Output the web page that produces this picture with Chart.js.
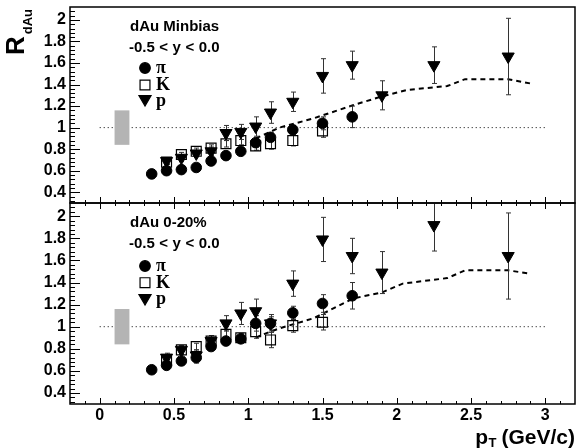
<!DOCTYPE html>
<html>
<head>
<meta charset="utf-8">
<script src="https://cdn.jsdelivr.net/npm/chart.js@4.4.0/dist/chart.umd.min.js"></script>
<style>
  body { margin: 0; background: #fff; }
  #wrap { position: relative; width: 576px; height: 448px; }
  canvas { position: absolute; left: 0; }
  #topChart { top: 0; }
  #bottomChart { top: 198px; }
</style>
</head>
<body>
<div id="wrap">
  <canvas id="topChart" width="576" height="205"></canvas>
  <canvas id="bottomChart" width="576" height="250"></canvas>
</div>
<script>
// pT bin centres (GeV/c)
const piPt = [0.35, 0.45, 0.55, 0.65, 0.75, 0.85, 0.95, 1.05, 1.15, 1.3, 1.5, 1.7];
const kPt = [0.45, 0.55, 0.65, 0.75, 0.85, 0.95, 1.05, 1.15, 1.3, 1.5];
const pPt = [0.45, 0.55, 0.65, 0.75, 0.85, 0.95, 1.05, 1.15, 1.3, 1.5, 1.7, 1.9, 2.25, 2.75];

// dAu minbias
const piMinbias = [0.57, 0.60, 0.61, 0.63, 0.69, 0.74, 0.78, 0.86, 0.91, 0.98, 1.04, 1.10];
const piMinbiasErr = [0.02, 0.02, 0.02, 0.03, 0.03, 0.03, 0.03, 0.04, 0.04, 0.04, 0.06, 0.10];
const kMinbias = [0.68, 0.75, 0.78, 0.81, 0.85, 0.88, 0.83, 0.85, 0.88, 0.97];
const kMinbiasErr = [0.02, 0.02, 0.03, 0.03, 0.03, 0.04, 0.04, 0.05, 0.05, 0.06];
const pMinbias = [0.69, 0.72, 0.76, 0.78, 0.95, 0.96, 1.01, 1.14, 1.24, 1.48, 1.58, 1.30, 1.58, 1.66];
const pMinbiasErr = [0.03, 0.03, 0.03, 0.04, 0.07, 0.07, 0.09, 0.10, 0.09, 0.16, 0.13, 0.135, 0.17, 0.355];

// dAu 0-20%
const piCentral = [0.61, 0.65, 0.69, 0.72, 0.82, 0.87, 0.89, 1.03, 1.03, 1.125, 1.21, 1.28];
const piCentralErr = [0.02, 0.03, 0.03, 0.05, 0.03, 0.03, 0.03, 0.07, 0.06, 0.06, 0.08, 0.12];
const kCentral = [0.70, 0.79, 0.82, 0.87, 0.93, 0.90, 0.955, 0.88, 1.01, 1.04];
const kCentralErr = [0.02, 0.03, 0.03, 0.03, 0.04, 0.04, 0.06, 0.07, 0.06, 0.07];
const pCentral = [0.72, 0.79, 0.74, 0.87, 1.03, 1.12, 1.14, 1.03, 1.39, 1.79, 1.64, 1.49, 1.92, 1.64];
const pCentralErr = [0.04, 0.04, 0.05, 0.05, 0.07, 0.10, 0.11, 0.08, 0.115, 0.20, 0.16, 0.19, 0.235, 0.39];

// dashed curves
const curveMinbiasPt = [1.05, 1.1, 1.21, 1.44, 1.71, 1.90, 2.07, 2.34, 2.46, 2.75, 2.90];
const curveMinbias = [0.90, 0.93, 1.0, 1.086, 1.21, 1.29, 1.35, 1.386, 1.45, 1.45, 1.41];
const curveCentralPt = [1.05, 1.1, 1.21, 1.44, 1.71, 1.90, 2.04, 2.34, 2.46, 2.75, 2.90];
const curveCentral = [0.90, 0.93, 0.985, 1.076, 1.257, 1.31, 1.39, 1.44, 1.51, 1.51, 1.48];

// reference line and normalisation box
const refLineX = [0, 3];
const refLineY = [1, 1];
const sysBoxX = [0.1, 0.2];
const sysBoxY = [0.84, 1.16];

const xTicks = [0, 0.5, 1, 1.5, 2, 2.5, 3];
const yTicks = [0.4, 0.6, 0.8, 1, 1.2, 1.4, 1.6, 1.8, 2];

const sans = '"Liberation Sans", Arial, Helvetica, sans-serif';
const serif = '"Liberation Serif", "Times New Roman", serif';

function toPoints(xs, ys) {
  return xs.map((x, i) => ({ x: x, y: ys[i] }));
}

// box + error bars, drawn once the curve is down and before the markers
const errorBarPlugin = {
  id: 'errorBars',
  afterDatasetDraw(chart, args, opts) {
    if (chart.data.datasets[args.index].label !== 'curve') return;
    const { ctx, chartArea, scales } = chart;
    ctx.save();
    ctx.beginPath();
    ctx.rect(chartArea.left, chartArea.top, chartArea.width, chartArea.height);
    ctx.clip();

    const bx0 = scales.x.getPixelForValue(sysBoxX[0]);
    const bx1 = scales.x.getPixelForValue(sysBoxX[1]);
    const by0 = scales.y.getPixelForValue(sysBoxY[1]);
    const by1 = scales.y.getPixelForValue(sysBoxY[0]);
    ctx.fillStyle = '#b4b4b4';
    ctx.fillRect(bx0, by0, bx1 - bx0, by1 - by0);

    ctx.strokeStyle = '#333';
    ctx.lineWidth = 1;
    opts.series.forEach(s => {
      s.x.forEach((x, i) => {
        const px = Math.round(scales.x.getPixelForValue(x)) + 0.5;
        const lo = scales.y.getPixelForValue(s.y[i] - s.err[i]);
        const hi = scales.y.getPixelForValue(s.y[i] + s.err[i]);
        ctx.beginPath();
        ctx.moveTo(px, lo);
        ctx.lineTo(px, hi);
        ctx.moveTo(px - 2.5, lo);
        ctx.lineTo(px + 2.5, lo);
        ctx.moveTo(px - 2.5, hi);
        ctx.lineTo(px + 2.5, hi);
        ctx.stroke();
      });
    });
    ctx.restore();
  }
};

function drawLtText(ctx, x, y) {
  // TLatex style spacing round the "<" signs
  const parts = ['-0.5', '<', 'y', '<', '0.0'];
  parts.forEach(p => {
    ctx.fillText(p, x, y);
    x += ctx.measureText(p).width + 4.5;
  });
}

// frame, inward ticks, panel text and legend
const framePlugin = {
  id: 'frame',
  afterDraw(chart, args, opts) {
    const { ctx, chartArea, scales } = chart;
    const { left, right, top, bottom } = chartArea;
    ctx.save();
    ctx.strokeStyle = '#000';
    ctx.lineWidth = 1.5;
    ctx.strokeRect(left, top, right - left, bottom - top);

    ctx.lineWidth = 1;
    ctx.beginPath();
    for (let k = 8; k <= 52; k++) {
      const py = Math.round(scales.y.getPixelForValue(k * 0.04)) + 0.5;
      const len = k % 5 === 0 ? 10 : 5;
      ctx.moveTo(left, py);
      ctx.lineTo(left + len, py);
    }
    for (let k = -1; k <= 31; k++) {
      const px = Math.round(scales.x.getPixelForValue(k * 0.1)) + 0.5;
      const len = k % 5 === 0 ? 6 : 3;
      ctx.moveTo(px, bottom);
      ctx.lineTo(px, bottom - len);
      if (opts.topTicks) {
        ctx.moveTo(px, top);
        ctx.lineTo(px, top + len);
      }
    }
    ctx.stroke();

    ctx.fillStyle = '#000';
    ctx.textAlign = 'left';
    ctx.textBaseline = 'alphabetic';
    ctx.font = 'bold 15px ' + sans;
    ctx.fillText(opts.title, 130, opts.textY[0]);
    drawLtText(ctx, 129, opts.textY[1]);

    const marks = [
      { pointStyle: 'circle', radius: 5.3, rotation: 0, fill: true, label: 'π' },
      { pointStyle: 'rect', radius: 7, rotation: 0, fill: false, label: 'K' },
      { pointStyle: 'triangle', radius: 7, rotation: 180, fill: true, label: 'p' }
    ];
    marks.forEach((m, i) => {
      ctx.fillStyle = m.fill ? '#000' : 'rgba(0,0,0,0)';
      ctx.strokeStyle = '#000';
      ctx.lineWidth = 1.2;
      Chart.helpers.drawPoint(ctx, { pointStyle: m.pointStyle, radius: m.radius, rotation: m.rotation, borderWidth: 1.2 }, 145, opts.markY[i]);
      ctx.fillStyle = '#000';
      ctx.font = 'bold 18px ' + serif;
      ctx.fillText(m.label, 156, opts.labelY[i]);
    });

    if (opts.yTitle) {
      ctx.save();
      ctx.translate(24, 55);
      ctx.rotate(-Math.PI / 2);
      ctx.font = 'bold 26px ' + sans;
      ctx.fillText('R', 0, 0);
      const w = ctx.measureText('R').width;
      ctx.font = 'bold 13px ' + sans;
      ctx.fillText('dAu', w + 2, 8);
      ctx.restore();
    }
    if (opts.xTitle) {
      const y = 444 - 198;
      ctx.textAlign = 'right';
      ctx.font = 'bold 21px ' + sans;
      ctx.fillText('(GeV/c)', 575, y);
      let x = 575 - ctx.measureText('(GeV/c)').width - 5;
      ctx.font = 'bold 13px ' + sans;
      ctx.fillText('T', x, y + 3);
      x -= ctx.measureText('T').width + 0.5;
      ctx.font = 'bold 21px ' + sans;
      ctx.fillText('p', x, y);
    }
    ctx.restore();
  }
};

function makePanel(canvasId, panel) {
  const ctx = document.getElementById(canvasId).getContext('2d');
  const tickFont = { family: sans, size: 16, weight: 'bold' };

  new Chart(ctx, {
    type: 'scatter',
    data: {
      datasets: [
        {
          label: 'pi',
          data: toPoints(piPt, panel.pi),
          pointStyle: 'circle',
          pointRadius: 5.3,
          backgroundColor: '#000',
          borderColor: '#000',
          borderWidth: 1
        },
        {
          label: 'p',
          data: toPoints(pPt, panel.p),
          pointStyle: 'triangle',
          pointRotation: 180,
          pointRadius: 7,
          backgroundColor: '#000',
          borderColor: '#000',
          borderWidth: 1
        },
        {
          label: 'K',
          data: toPoints(kPt, panel.k),
          pointStyle: 'rect',
          pointRadius: 7,
          backgroundColor: 'rgba(0,0,0,0)',
          borderColor: '#000',
          borderWidth: 1.2
        },
        {
          label: 'curve',
          type: 'line',
          data: toPoints(panel.curvePt, panel.curve),
          borderColor: '#000',
          borderWidth: 2,
          borderDash: [5, 4],
          pointRadius: 0,
          fill: false,
          tension: 0
        },
        {
          label: 'ref',
          type: 'line',
          data: toPoints(refLineX, refLineY),
          borderColor: '#000',
          borderWidth: 1,
          borderDash: [1, 3],
          pointRadius: 0,
          fill: false
        }
      ]
    },
    options: {
      responsive: false,
      animation: false,
      events: [],
      layout: { padding: panel.padding, autoPadding: false },
      plugins: {
        legend: { display: false },
        tooltip: { enabled: false },
        errorBars: {
          series: [
            { x: piPt, y: panel.pi, err: panel.piErr },
            { x: kPt, y: panel.k, err: panel.kErr },
            { x: pPt, y: panel.p, err: panel.pErr }
          ]
        },
        frame: panel.frame
      },
      scales: {
        x: {
          type: 'linear',
          min: -0.2,
          max: 3.2,
          display: panel.showX,
          afterBuildTicks: s => { s.ticks = xTicks.map(v => ({ value: v })); },
          afterFit: s => {
            s.height = panel.showX ? 44 : 0;
            s.paddingLeft = 0;
            s.paddingRight = 0;
          },
          ticks: { font: tickFont, color: '#000', padding: 2, maxRotation: 0, autoSkip: false, callback: v => String(v) },
          grid: { display: false, drawTicks: false },
          border: { display: false }
        },
        y: {
          min: 0.3,
          max: 2.12,
          afterBuildTicks: s => { s.ticks = yTicks.map(v => ({ value: v })); },
          afterFit: s => {
            s.width = 70;
            s.paddingTop = 0;
            s.paddingBottom = 0;
          },
          ticks: { font: tickFont, color: '#000', padding: 4, autoSkip: false, callback: v => String(v) },
          grid: { display: false, drawTicks: false },
          border: { display: false }
        }
      }
    },
    plugins: [errorBarPlugin, framePlugin]
  });
}

makePanel('topChart', {
  pi: piMinbias, piErr: piMinbiasErr,
  k: kMinbias, kErr: kMinbiasErr,
  p: pMinbias, pErr: pMinbiasErr,
  curvePt: curveMinbiasPt, curve: curveMinbias,
  showX: false,
  padding: { top: 7, right: 1, bottom: 2, left: 0 },
  frame: { title: 'dAu Minbias', textY: [31, 52], markY: [68, 85, 99], labelY: [73, 90, 106], yTitle: true, topTicks: false }
});

makePanel('bottomChart', {
  pi: piCentral, piErr: piCentralErr,
  k: kCentral, kErr: kCentralErr,
  p: pCentral, pErr: pCentralErr,
  curvePt: curveCentralPt, curve: curveCentral,
  showX: true,
  padding: { top: 5, right: 1, bottom: 0, left: 0 },
  frame: { title: 'dAu 0-20%', textY: [29, 49.5], markY: [68, 84.7, 100], labelY: [73, 90, 106], xTitle: true, topTicks: true }
});
</script>
</body>
</html>
